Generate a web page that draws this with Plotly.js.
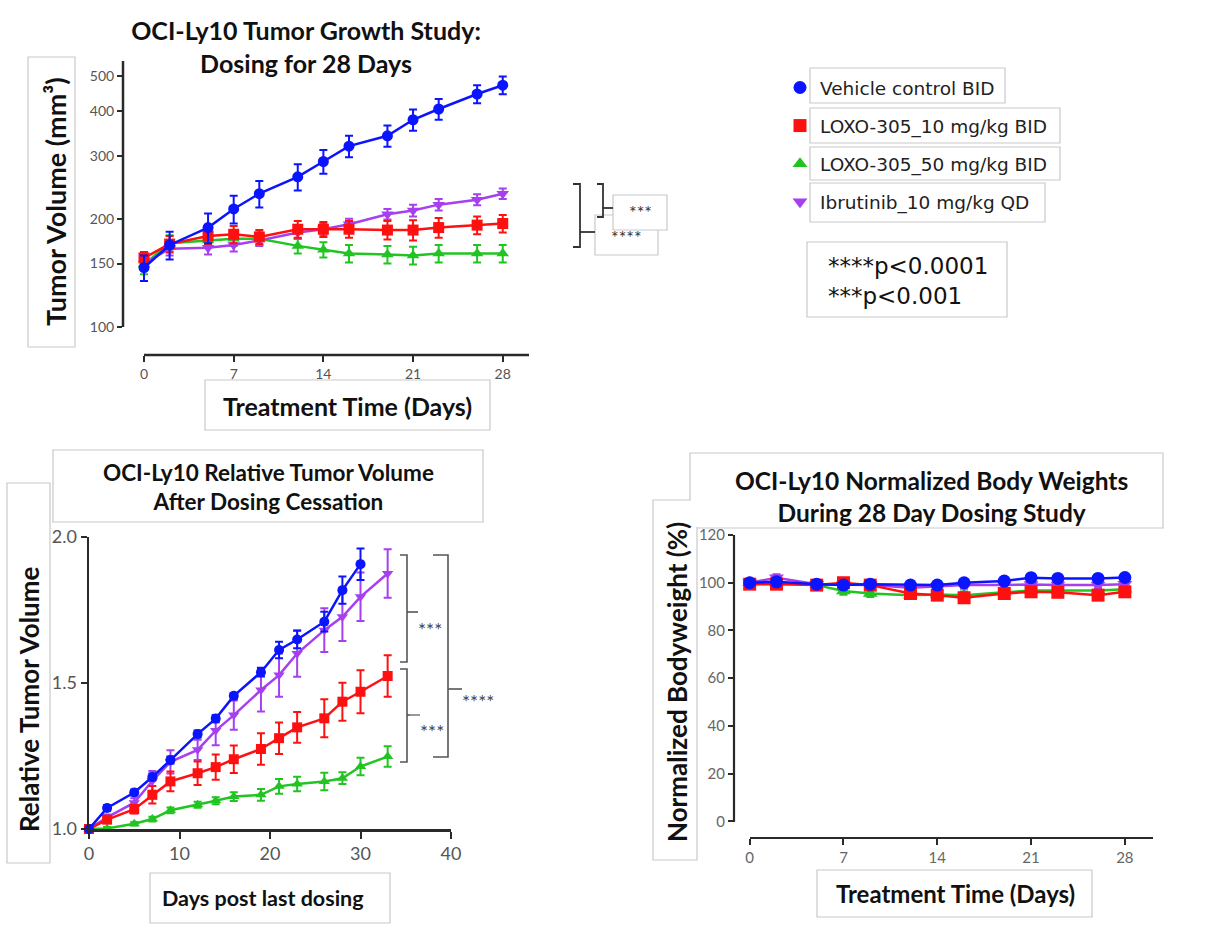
<!DOCTYPE html>
<html><head><meta charset="utf-8">
<script src="https://cdn.plot.ly/plotly-3.0.1.min.js"></script>
<style>html,body{margin:0;padding:0;background:#fff}#chart{width:1211px;height:939px}</style>
</head><body><div id="chart"></div>
<script>
// ---------- DATA ----------
const seriesNames = ["Vehicle control BID", "LOXO-305_10 mg/kg BID", "LOXO-305_50 mg/kg BID", "Ibrutinib_10 mg/kg QD"];

// Tumor growth (mm^3) during 28 days of dosing
const tgDays = [0, 2, 5, 7, 9, 12, 14, 16, 19, 21, 23, 26, 28];
const tgVehicle = [146, 169, 189, 213, 235, 262, 289, 319, 341, 378, 405, 446, 472];
const tgVehicleErr = [12, 15, 18, 19, 20, 22, 22, 22, 23, 26, 27, 26, 27];
const tgLoxo10 = [155.5, 170, 179, 181, 178, 187, 187, 187, 186, 186, 189, 192, 194];
const tgLoxo10Err = [6, 9, 9, 10, 8, 10, 9, 10, 11, 12, 12, 11, 11];
const tgLoxo50 = [149, 171, 174, 176, 176, 168, 164, 160, 159, 158, 160, 160, 160];
const tgLoxo50Err = [9, 9, 8, 8, 7, 8, 8, 9, 9, 9, 9, 9, 9];
const tgIbru = [150, 165, 166, 169, 174, 183, 187, 193, 206, 211, 219, 226, 235];
const tgIbruErr = [6, 7, 7, 7, 6, 7, 7, 7, 7, 8, 8, 8, 8];

// Relative tumor volume after dosing cessation
const rtvDaysVehicle = [0, 2, 5, 7, 9, 12, 14, 16, 19, 21, 23, 26, 28, 30];
const rtvDays = [0, 2, 5, 7, 9, 12, 14, 16, 19, 21, 23, 26, 28, 30, 33];
const rtvVehicle = [1.0, 1.072, 1.125, 1.178, 1.236, 1.325, 1.378, 1.456, 1.537, 1.613, 1.649, 1.71, 1.818, 1.907];
const rtvVehicleErr = [0.005, 0.01, 0.01, 0.012, 0.012, 0.012, 0.012, 0.01, 0.015, 0.028, 0.03, 0.034, 0.047, 0.054];
const rtvLoxo10 = [1.0, 1.032, 1.068, 1.117, 1.163, 1.191, 1.212, 1.239, 1.274, 1.311, 1.348, 1.379, 1.436, 1.47, 1.524];
const rtvLoxo10Err = [0.005, 0.01, 0.015, 0.03, 0.034, 0.04, 0.043, 0.047, 0.054, 0.054, 0.053, 0.065, 0.065, 0.074, 0.071];
const rtvLoxo50 = [1.0, 1.002, 1.018, 1.034, 1.064, 1.083, 1.097, 1.111, 1.117, 1.146, 1.154, 1.163, 1.174, 1.214, 1.248];
const rtvLoxo50Err = [0.003, 0.005, 0.006, 0.008, 0.01, 0.01, 0.012, 0.015, 0.02, 0.025, 0.025, 0.03, 0.02, 0.03, 0.035];
const rtvIbru = [1.0, 1.04, 1.09, 1.165, 1.23, 1.271, 1.337, 1.39, 1.476, 1.527, 1.601, 1.681, 1.727, 1.795, 1.875];
const rtvIbruErr = [0.005, 0.01, 0.015, 0.034, 0.04, 0.035, 0.05, 0.05, 0.074, 0.074, 0.08, 0.075, 0.083, 0.083, 0.083];

// Normalized body weight (%)
const bwDays = [0, 2, 5, 7, 9, 12, 14, 16, 19, 21, 23, 26, 28];
const bwVehicle = [100, 100.4, 99.4, 99, 99.4, 99, 99, 100, 100.7, 102.1, 101.8, 101.8, 102.2];
const bwLoxo10 = [99.4, 99.4, 99, 100, 99, 95.5, 94.8, 93.7, 95.5, 96.2, 96, 94.8, 96.2];
const bwLoxo50 = [100, 100, 99, 96.5, 95.5, 94.8, 95.1, 94.8, 96, 96.7, 96.7, 96.7, 97.3];
const bwIbru = [100, 102.1, 99.4, 99.3, 99, 97.9, 98.3, 99, 99, 99.3, 99, 99, 99.4];
const bwErr = [1.5, 1.5, 1.5, 1.5, 1.5, 1.5, 1.5, 1.5, 1.5, 1.5, 1.5, 1.5, 1.5];

// Tick labels
const tgYTicks = [100, 150, 200, 300, 400, 500];
const dayTicks28 = [0, 7, 14, 21, 28];
const rtvXTicks = [0, 10, 20, 30, 40];
const rtvYTicks = [1.0, 1.5, 2.0];
const bwYTicks = [0, 20, 40, 60, 80, 100, 120];

// ---------- STYLE ----------
const W = 1211, H = 939;
const P = x => x / W;          // pixel -> paper x
const Q = y => 1 - y / H;      // pixel -> paper y
const FONT = "Lato, 'Open Sans', sans-serif";
const TFONT = "'DejaVu Sans', Verdana, sans-serif";
const colors = ["#0a14ff", "#ff1010", "#22c422", "#a63ff0"];
const symbols = ["circle", "square", "triangle-up", "triangle-down"];
const AX = "#2a2a2a";
const BOX = "#c9c9c9";

function series(x, y, err, idx, xa, ya, msize) {
  return {
    type: "scatter", mode: "lines+markers", x: x, y: y,
    xaxis: xa, yaxis: ya, showlegend: false, cliponaxis: false,
    line: {color: colors[idx], width: 2.5},
    marker: {color: colors[idx], symbol: symbols[idx], size: msize},
    error_y: {type: "data", array: err, visible: true, color: colors[idx], thickness: 2, width: 4}
  };
}

const drawOrder = [2, 3, 1, 0]; // green, purple, red, blue (blue on top)
const traces = [];
// legend-only entries (no marks)
[0, 1, 2, 3].forEach(i => traces.push({
  type: "scatter", mode: "markers", x: [null], y: [null], name: seriesNames[i],
  legendgroup: "g" + i, showlegend: true,
  marker: {color: colors[i], symbol: symbols[i], size: 13}
}));
const tgY = [tgVehicle, tgLoxo10, tgLoxo50, tgIbru];
const tgE = [tgVehicleErr, tgLoxo10Err, tgLoxo50Err, tgIbruErr];
const rtvX = [rtvDaysVehicle, rtvDays, rtvDays, rtvDays];
const rtvY = [rtvVehicle, rtvLoxo10, rtvLoxo50, rtvIbru];
const rtvE = [rtvVehicleErr, rtvLoxo10Err, rtvLoxo50Err, rtvIbruErr];
const bwY = [bwVehicle, bwLoxo10, bwLoxo50, bwIbru];
drawOrder.forEach(i => traces.push(series(tgDays, tgY[i], tgE[i], i, "x", "y", 11)));
drawOrder.forEach(i => traces.push(series(rtvX[i], rtvY[i], rtvE[i], i, "x2", "y2", 10)));
drawOrder.forEach(i => traces.push(series(bwDays, bwY[i], bwErr, i, "x3", "y3", 13)));

// ---------- SHAPES ----------
const shapes = [];
function line(x0, y0, x1, y1, color, width) {
  shapes.push({type: "line", xref: "paper", yref: "paper", x0: P(x0), y0: Q(y0), x1: P(x1), y1: Q(y1),
    line: {color: color, width: width}});
}
function rect(x0, y0, x1, y1, border, fill) {
  shapes.push({type: "rect", xref: "paper", yref: "paper", x0: P(x0), y0: Q(y0), x1: P(x1), y1: Q(y1),
    line: {color: border || "rgba(0,0,0,0)", width: border ? 1.2 : 0}, fillcolor: fill || "rgba(0,0,0,0)", layer: "below"});
}
function bracket(xOut, xIn, y0, y1, tickY, tickX1, color, width) {
  shapes.push({type: "path", xref: "paper", yref: "paper",
    path: `M ${P(xOut)},${Q(y0)} L ${P(xIn)},${Q(y0)} L ${P(xIn)},${Q(y1)} L ${P(xOut)},${Q(y1)}`,
    line: {color: color, width: width}});
  line(xIn, tickY, tickX1, tickY, color, width);
}

// Top chart: detached axis lines
line(123, 61, 123, 327, AX, 2.5);
line(144, 355, 529, 355, AX, 2.5);
// Bottom-right: detached axis lines
line(734, 535, 734, 822, AX, 2.2);
line(750, 838, 1153, 838, AX, 2.2);

// Boxes (titles, legend items, p-value box)
rect(28, 57, 75, 347, BOX, "#fff");        // top y title
rect(205, 380, 490, 430, BOX, "#fff");     // top x title
rect(53, 450, 483, 522, BOX, "#fff");      // bottom-left title
rect(7, 483, 50, 863, BOX, "#fff");        // bottom-left y title
rect(150, 873, 390, 923, BOX, "#fff");     // bottom-left x title
rect(690, 453, 1163, 528, BOX, "#fff");    // bottom-right title
rect(653, 500, 697, 860, BOX, "#fff");     // bottom-right y title
rect(691, 454, 1162, 527, null, "#fff");   // merge outline
rect(817, 870, 1092, 917, BOX, "#fff");    // bottom-right x title
rect(810, 68, 1005, 103, BOX, "#fff");     // legend item boxes
rect(810, 108, 1060, 143, BOX, "#fff");
rect(810, 147, 1060, 180, BOX, "#fff");
rect(810, 183, 1045, 222, BOX, "#fff");
rect(807, 242, 1007, 317, BOX, "#fff");    // p-value box
rect(595, 215, 658, 255, BOX, "#fff");     // **** box
rect(613, 195, 667, 230, BOX, "#fff");     // *** box

// significance brackets, top chart
bracket(573, 580, 184, 247, 232, 595, "#333", 1.8);
bracket(597, 603, 184, 217, 208, 613, "#333", 1.8);
// significance brackets, bottom-left chart
bracket(400, 407, 555, 662, 612, 418, "#555", 1.6);
bracket(400, 407, 669, 762, 715, 410, "#555", 1.6);
line(410, 715, 420, 715, "#555", 1.2);
bracket(433, 448, 555, 757, 689, 462, "#555", 1.6);

// ---------- ANNOTATIONS ----------
const annotations = [];
function txt(text, x, y, size, opts, family) {
  annotations.push(Object.assign({text: text, xref: "paper", yref: "paper", x: P(x), y: Q(y),
    xanchor: "center", yanchor: "middle", showarrow: false,
    font: {family: family || FONT, size: size, color: "#111"}}, opts || {}));
}
txt("<b>Tumor Volume (mm³)</b>", 55, 202, 27);
annotations[annotations.length - 1].textangle = -90;
txt("<b>Treatment Time (Days)</b>", 347, 406, 25);
txt("<b>OCI-Ly10 Relative Tumor Volume<br>After Dosing Cessation</b>", 268, 487, 22.5);
txt("<b>Relative Tumor Volume</b>", 29, 699, 26, {textangle: -90});
txt("<b>Days post last dosing</b>", 263, 898, 21.5);
txt("<b>OCI-Ly10 Normalized Body Weights<br>During 28 Day Dosing Study</b>", 931, 496, 24.5);
txt("<b>Normalized Bodyweight (%)</b>", 677, 682, 26, {textangle: -90});
txt("<b>Treatment Time (Days)</b>", 955, 893, 24);
txt("****p<0.0001<br>***p<0.001", 826, 281, 23, {xanchor: "left", align: "left"}, TFONT);
txt("***", 640, 212, 18, {font: {family: FONT, size: 18, color: "#333"}});
txt("****", 626, 237, 18, {font: {family: FONT, size: 18, color: "#333"}});
txt("***", 430, 629, 19, {font: {family: FONT, size: 19, color: "#444"}});
txt("***", 432, 731, 19, {font: {family: FONT, size: 19, color: "#444"}});
txt("****", 478, 701, 19, {font: {family: FONT, size: 19, color: "#444"}});

// ---------- LAYOUT ----------
const tickFontSmall = {family: FONT, size: 14, color: "#555"};
const layout = {
  width: W, height: H, margin: {l: 0, r: 0, t: 0, b: 0},
  paper_bgcolor: "#fff", plot_bgcolor: "rgba(0,0,0,0)",
  font: {family: FONT, color: "#111"},
  title: {text: "<b>OCI-Ly10 Tumor Growth Study:<br>Dosing for 28 Days</b>", x: P(306), xanchor: "center",
    y: Q(40), yanchor: "middle", font: {family: FONT, size: 25, color: "#111"}},
  showlegend: true,
  legend: {x: P(780), y: Q(69), xanchor: "left", yanchor: "top", traceorder: "grouped", tracegroupgap: 11,
    bgcolor: "rgba(0,0,0,0)", font: {family: TFONT, size: 18.5, color: "#222"}, itemwidth: 30},
  xaxis: {domain: [P(123), P(529)], anchor: "y", range: [-1.64, 30.05], tickvals: dayTicks28,
    showline: false, showgrid: false, zeroline: false, ticks: "outside", ticklen: 6, tickwidth: 2, tickcolor: AX,
    tickfont: tickFontSmall},
  yaxis: {domain: [Q(355), Q(61)], anchor: "x", type: "log", range: [1.9207, 2.7415], tickvals: tgYTicks,
    ticktext: tgYTicks.map(String), showline: false, showgrid: false, zeroline: false, ticks: "outside", ticklen: 5,
    tickwidth: 2, tickcolor: AX, tickfont: tickFontSmall},
  xaxis2: {domain: [P(89), P(451)], anchor: "y2", range: [0, 40], tickvals: rtvXTicks,
    showline: true, linecolor: AX, linewidth: 2.5, showgrid: false, zeroline: false, ticks: "outside", ticklen: 7,
    tickwidth: 2, tickcolor: AX, tickfont: {family: FONT, size: 18, color: "#555"}},
  yaxis2: {domain: [Q(829), Q(537)], anchor: "x2", range: [1.0, 2.0], tickvals: rtvYTicks, tickformat: ".1f",
    showline: true, linecolor: AX, linewidth: 2.5, showgrid: false, zeroline: false, ticks: "outside", ticklen: 6,
    tickwidth: 2, tickcolor: AX, tickfont: {family: FONT, size: 18, color: "#555"}},
  xaxis3: {domain: [P(734), P(1153)], anchor: "y3", range: [-1.17, 30.1], tickvals: dayTicks28,
    showline: false, showgrid: false, zeroline: false, ticks: "outside", ticklen: 6, tickwidth: 2, tickcolor: AX,
    tickfont: {family: FONT, size: 15, color: "#666"}},
  yaxis3: {domain: [Q(838), Q(535)], anchor: "x3", range: [-6.95, 120], tickvals: bwYTicks,
    showline: false, showgrid: false, zeroline: false, ticks: "outside", ticklen: 5, tickwidth: 2, tickcolor: AX,
    tickfont: {family: FONT, size: 15, color: "#666"}},
  shapes: shapes,
  annotations: annotations
};

Plotly.newPlot("chart", traces, layout, {displayModeBar: false, staticPlot: true});
</script>
</body></html>
